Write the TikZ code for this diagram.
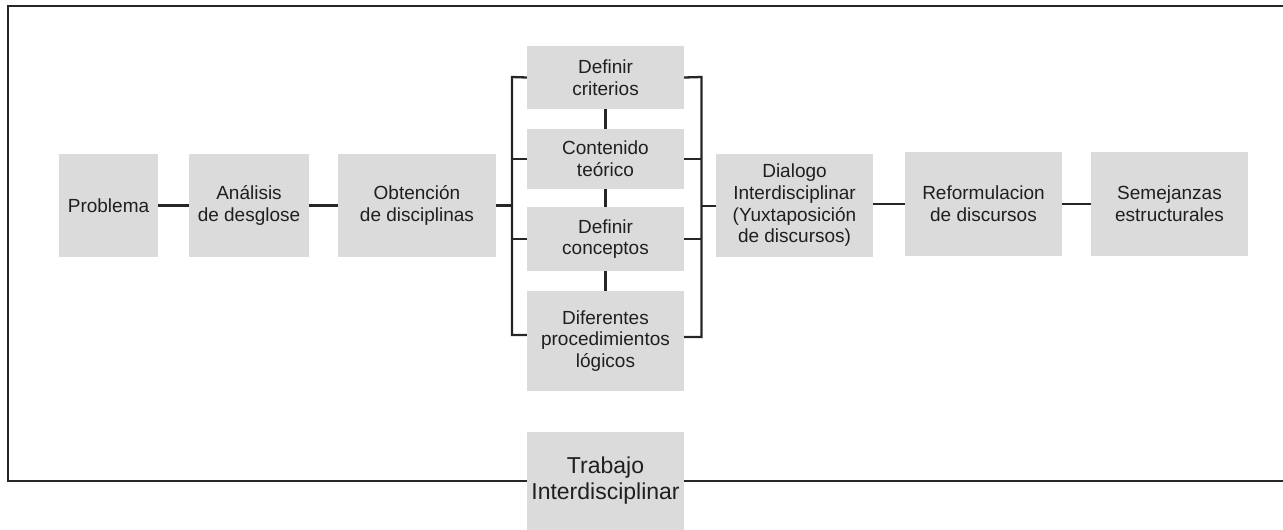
\documentclass[tikz,border=0pt]{standalone}
\usepackage{fontspec}
\setmainfont{Liberation Sans}
\usepackage{tikz}

\begin{document}
\begin{tikzpicture}[x=1pt, y=-1pt,
    box/.style={fill=black!14, text=black!88, inner sep=0pt, align=center,
      font=\fontsize{19}{21.7}\selectfont},
    link/.style={draw=black!85, line width=2.3pt}]
  \useasboundingbox (0,0) rectangle (1283,530);
  % main row
  \node[box, minimum width=99, minimum height=103] (prob) at (108.5,205.5) {Problema};
  \node[box, minimum width=120, minimum height=103] (anal) at (249,205.5) {Análisis\\de desglose};
  \node[box, minimum width=158, minimum height=103] (obt) at (417,205.5) {Obtención\\de disciplinas};
  \node[box, minimum width=157, minimum height=103] (dial) at (794.5,205.5) {Dialogo\\Interdisciplinar\\(Yuxtaposición\\de discursos)};
  \node[box, minimum width=157, minimum height=104] (reform) at (983.5,204) {Reformulacion\\de discursos};
  \node[box, minimum width=157, minimum height=104] (sem) at (1169.5,204) {Semejanzas\\estructurales};
  % middle column
  \node[box, minimum width=157, minimum height=63] (crit) at (605.5,77.5) {Definir\\criterios};
  \node[box, minimum width=157, minimum height=60] (cont) at (605.5,159) {Contenido\\teórico};
  \node[box, minimum width=157, minimum height=64] (conc) at (605.5,239) {Definir\\conceptos};
  \node[box, minimum width=157, minimum height=100] (dif) at (605.5,341) {Diferentes\\procedimientos\\lógicos};
  \node[box, minimum width=157, minimum height=98, font=\fontsize{23}{26}\selectfont] (trab) at (605.5,481) {Trabajo\\Interdisciplinar};

  \coordinate (lb) at (512,205.5);
  \coordinate (lbtop) at (512,77);
  \coordinate (lbbot) at (512,335);
  \coordinate (rb) at (701.5,206);
  \coordinate (rbtop) at (701.5,77);
  \coordinate (rbbot) at (701.5,337);

  \draw[link] (prob) -- (anal);
  \draw[link] (anal) -- (obt);
  \draw[link] (obt.east |- lb) -- (lb);
  \draw[link] (crit.west) -- (lbtop) -- (lbbot) -- (dif.west |- lbbot);
  \draw[link] (cont.west) -- (cont.west -| lb);
  \draw[link] (conc.west) -- (conc.west -| lb);
  \draw[link] (crit.east) -- (rbtop) -- (rbbot) -- (dif.east |- rbbot);
  \draw[link] (cont.east) -- (cont.east -| rb);
  \draw[link] (conc.east) -- (conc.east -| rb);
  \draw[link] (rb) -- (dial.west |- rb);
  \draw[link] (crit) -- (cont);
  \draw[link] (cont) -- (conc);
  \draw[link] (conc) -- (dif);
  \draw[link] (dial.east |- reform) -- (reform);
  \draw[link] (reform) -- (sem);

  % outer frame, open at the right
  \coordinate (fne) at (1283,6);
  \coordinate (fnw) at (8,6);
  \coordinate (fsw) at (8,481);
  \coordinate (fse) at (1283,481);
  \draw[link, line width=2.5pt] (fne) -- (fnw) -- (fsw) -- (trab.west |- fsw);
  \draw[link, line width=2.5pt] (trab.east |- fse) -- (fse);
\end{tikzpicture}
\end{document}
